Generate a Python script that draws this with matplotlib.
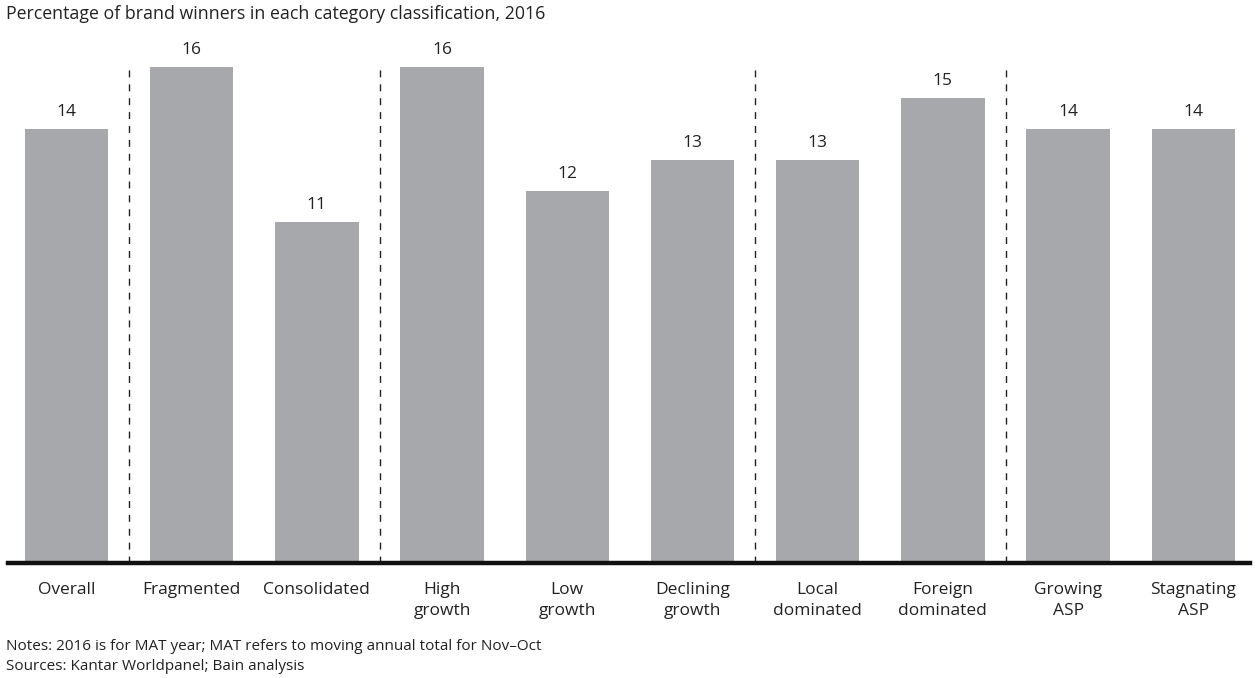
import matplotlib
matplotlib.use("Agg")
import matplotlib.pyplot as plt

categories = ["Overall", "Fragmented", "Consolidated", "High\ngrowth", "Low\ngrowth",
              "Declining\ngrowth", "Local\ndominated", "Foreign\ndominated",
              "Growing\nASP", "Stagnating\nASP"]
values = [14, 16, 11, 16, 12, 13, 13, 15, 14, 14]
# group separators sit between these category positions
separators = [0.5, 2.5, 5.5, 7.5]

title = "Percentage of brand winners in each category classification, 2016"
notes = "Notes: 2016 is for MAT year; MAT refers to moving annual total for Nov\u2013Oct"
sources = "Sources: Kantar Worldpanel; Bain analysis"

plt.rcParams["font.family"] = ["Open Sans", "DejaVu Sans"]

W, H = 1258, 678
fig = plt.figure(figsize=(W / 100, H / 100), dpi=100)

base_px, top_px = 563, 30
left_px, right_px = 8, 1250
ax = fig.add_axes([left_px / W, 1 - base_px / H, (right_px - left_px) / W, (base_px - top_px) / H])

px_per_unit = 31.0
ax.set_ylim(0, (base_px - top_px) / px_per_unit)
step = 125.2
ax.set_xlim((left_px - 66.5) / step, (right_px - 66.5) / step)

x = list(range(len(categories)))
ax.bar(x, values, width=0.665, color="#a7a8ab", zorder=2)
for xi, v in zip(x, values):
    ax.text(xi, v + 0.3, f"{v}", ha="center", va="bottom", fontsize=12.5, color="#222222")

ax.vlines(separators, 0, 16.05, colors="#222222", linestyles=(0, (5, 5)), linewidth=1.0, zorder=1)

for s in ["top", "right", "left"]:
    ax.spines[s].set_visible(False)
ax.spines["bottom"].set_linewidth(3.2)
ax.spines["bottom"].set_color("#111111")
ax.set_yticks([])
ax.set_xticks(x)
ax.set_xticklabels(categories, fontsize=12.5, color="#222222", linespacing=1.4)
ax.tick_params(axis="x", length=0, pad=14)

fig.text(6 / W, 1 - 14 / H, title, ha="left", va="center", fontsize=12.8, color="#222222")
fig.text(6 / W, 1 - 646 / H, notes, ha="left", va="center", fontsize=11.0, color="#222222")
fig.text(6 / W, 1 - 666 / H, sources, ha="left", va="center", fontsize=11.0, color="#222222")

fig.savefig("out.png", dpi=100)
